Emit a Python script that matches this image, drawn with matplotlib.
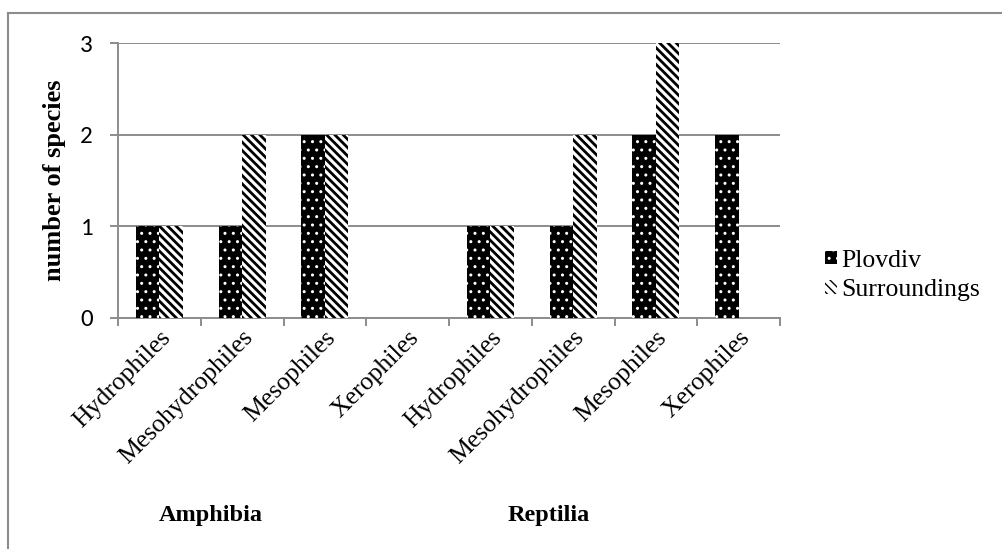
import matplotlib
matplotlib.use("Agg")
import matplotlib.pyplot as plt
from matplotlib.lines import Line2D
import numpy as np

categories = ["Hydrophiles", "Mesohydrophiles", "Mesophiles", "Xerophiles",
              "Hydrophiles", "Mesohydrophiles", "Mesophiles", "Xerophiles"]
groups = ["Amphibia", "Reptilia"]
plovdiv = [1, 1, 2, 0, 1, 1, 2, 2]
surroundings = [1, 2, 2, 0, 1, 2, 3, 0]

W, H = 1003, 549
serif = "Liberation Serif"
grey = "#8c8c8c"
stripes = chr(92) * 4

fig = plt.figure(figsize=(W / 100, H / 100), dpi=100)
ax = fig.add_axes([118 / W, 1 - 318 / H, (780 - 118) / W, (318 - 43) / H])

x = np.arange(len(categories))
bw = 0.285
b1 = ax.bar(x - bw / 2, plovdiv, bw, color="black", edgecolor="white",
            linewidth=0, hatch="..", label="Plovdiv", zorder=3)
b2 = ax.bar(x + bw / 2, surroundings, bw, color="white", edgecolor="black",
            linewidth=0, hatch=stripes, label="Surroundings", zorder=3)
for p in b1:
    p.set_hatch_linewidth(1.0)
for p in b2:
    p.set_hatch_linewidth(2.0)

ax.set_xlim(-0.5, len(categories) - 0.5)
ax.set_ylim(0, 3)
ax.set_yticks([0, 1, 2, 3])
ax.yaxis.grid(True, color=grey, linewidth=1.4, zorder=0)
ax.set_axisbelow(True)
for s in ["top", "right"]:
    ax.spines[s].set_visible(False)
for s in ["left", "bottom"]:
    ax.spines[s].set_color(grey)
    ax.spines[s].set_linewidth(1.4)

ax.set_xticks(x)
ax.set_xticklabels(categories, rotation=45, ha="right", va="top",
                   rotation_mode="anchor", family=serif, fontsize=18.5)
ax.set_xticks(np.arange(-0.5, len(categories)), minor=True)
ax.tick_params(axis="x", which="major", length=0, pad=6)
ax.tick_params(axis="x", which="minor", length=6, color=grey, width=1.4)
ax.tick_params(axis="y", length=6, color=grey, width=1.4, pad=12,
               labelsize=18)
for lab in ax.get_yticklabels():
    lab.set_family("Carlito")

ax.set_ylabel("number of species", family=serif, fontsize=19,
              fontweight="bold", labelpad=10)

fig.text(211 / W, 1 - 516 / H, groups[0], family=serif, fontsize=17.5,
         fontweight="bold", ha="center", va="center")
fig.text(549 / W, 1 - 516 / H, groups[1], family=serif, fontsize=17.5,
         fontweight="bold", ha="center", va="center")

ax.legend(loc="center left", bbox_to_anchor=(825 / W, 1 - 275.5 / H),
          bbox_transform=fig.transFigure, frameon=False,
          prop={"family": serif, "size": 18.5}, handlelength=0.45,
          handleheight=0.45, handletextpad=0.2, labelspacing=0.3,
          borderpad=0, borderaxespad=0)

# outer chart border
fig.add_artist(Line2D([8 / W, 1], [1 - 13 / H, 1 - 13 / H],
                      color=grey, linewidth=1.5, transform=fig.transFigure))
fig.add_artist(Line2D([8 / W, 8 / W], [0, 1 - 13 / H],
                      color=grey, linewidth=1.5, transform=fig.transFigure))

fig.savefig("out.png", dpi=100)
